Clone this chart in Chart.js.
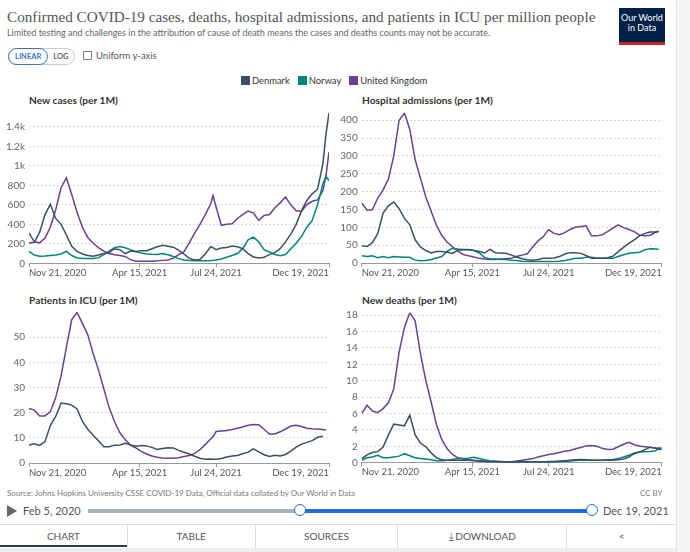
<!DOCTYPE html>
<html>
<head>
<meta charset="utf-8">
<script src="https://cdn.jsdelivr.net/npm/chart.js@4.4.1/dist/chart.umd.min.js"></script>
<style>
  body { margin: 0; width: 690px; height: 552px; overflow: hidden; background: #fff; font-family: Lato, sans-serif; position: relative; }
  .abs { position: absolute; }
  #title { left: 7px; top: 8px; font-family: "Liberation Serif", serif; font-size: 15.2px; color: #555; white-space: nowrap; }
  #subtitle { left: 7px; top: 27px; font-size: 9px; color: #666; white-space: nowrap; }
  #logo { left: 619px; top: 8px; width: 46px; background: #002147; border-bottom: 3px solid #ce261e; color: #fff; font-size: 9px; line-height: 10px; text-align: center; padding-top: 5px; height: 29px; }
  #toggle { left: 8px; top: 48px; height: 15px; border: 1px solid #ccc; border-radius: 9px; display: flex; font-size: 7.5px; font-weight: bold; }
  #toggle span { padding: 0 6px; line-height: 15px; color: #666; }
  #toggle .on { color: #3b73c0; border: 1px solid #3b73c0; border-radius: 9px; margin: -1px; line-height: 15px; }
  #uniform { left: 83px; top: 50px; font-size: 9.5px; color: #555; display: flex; align-items: center; }
  #uniform i { display: inline-block; width: 7px; height: 7px; border: 1px solid #777; border-radius: 1px; margin-right: 4px; }
  #legend { left: 241px; top: 75px; display: flex; font-size: 9.4px; color: #333; }
  #legend div { display: flex; align-items: center; margin-right: 8px; }
  #legend i { display: inline-block; width: 9px; height: 9px; margin-right: 2px; }
  .ptitle { font-size: 10.2px; font-weight: bold; color: #333; }
  canvas { position: absolute; }
  #frame { left: 676px; top: 0; width: 14px; height: 552px; background: #f5f5f5; border-left: 1px solid #e3e3e3; }
  #source { left: 7px; top: 488px; font-size: 8px; color: #777; }
  #ccby { left: 640px; top: 488px; font-size: 8px; color: #777; }
  #play { left: 7px; top: 505px; width: 0; height: 0; border-left: 10px solid #666; border-top: 6px solid transparent; border-bottom: 6px solid transparent; }
  #start { left: 23px; top: 504px; font-size: 11px; color: #555; }
  #end { left: 603px; top: 504px; font-size: 11px; color: #555; }
  #trackA { left: 88px; top: 509px; width: 212px; height: 4px; background: #aab1b8; }
  #trackB { left: 300px; top: 509px; width: 292px; height: 4px; background: #1f6fd6; }
  .handle { top: 504px; width: 10px; height: 10px; border-radius: 50%; border: 1.5px solid #1f6fd6; background: #fff; }
  #tabs { left: 0; top: 524px; width: 676px; height: 23px; border-top: 1px solid #ddd; display: flex; font-size: 10px; color: #555; }
  #tabs div { border-right: 1px solid #ddd; text-align: center; line-height: 22px; }
  #under { left: 0; top: 545px; width: 127px; height: 2px; background: #2c3e50; }
  #bottom { left: 0; top: 548px; width: 676px; height: 4px; background: #eee; }
</style>
</head>
<body>
<div id="frame" class="abs"></div>
<div id="title" class="abs">Confirmed COVID-19 cases, deaths, hospital admissions, and patients in ICU per million people</div>
<div id="subtitle" class="abs">Limited testing and challenges in the attribution of cause of death means the cases and deaths counts may not be accurate.</div>
<div id="logo" class="abs">Our World<br>in Data</div>
<div id="toggle" class="abs"><span class="on">LINEAR</span><span>LOG</span></div>
<div id="uniform" class="abs"><i></i>Uniform y-axis</div>
<div id="legend" class="abs"></div>

<div class="abs ptitle" style="left:29px;top:94px">New cases (per 1M)</div>
<div class="abs ptitle" style="left:362px;top:94px">Hospital admissions (per 1M)</div>
<div class="abs ptitle" style="left:29px;top:294px">Patients in ICU (per 1M)</div>
<div class="abs ptitle" style="left:362px;top:294px">New deaths (per 1M)</div>

<canvas id="cases" width="340" height="180" style="left:0;top:100px"></canvas>
<canvas id="hosp" width="340" height="180" style="left:335px;top:100px"></canvas>
<canvas id="icu" width="340" height="180" style="left:0;top:300px"></canvas>
<canvas id="deaths" width="340" height="180" style="left:335px;top:300px"></canvas>

<div id="source" class="abs">Source: Johns Hopkins University CSSE COVID-19 Data, Official data collated by Our World in Data</div>
<div id="ccby" class="abs">CC BY</div>
<div id="play" class="abs"></div>
<div id="start" class="abs">Feb 5, 2020</div>
<div id="trackA" class="abs"></div>
<div id="trackB" class="abs"></div>
<div class="abs handle" style="left:294px"></div>
<div class="abs handle" style="left:586px"></div>
<div id="end" class="abs">Dec 19, 2021</div>
<div id="tabs" class="abs">
  <div style="width:127px">CHART</div>
  <div style="width:127px">TABLE</div>
  <div style="width:142px">SOURCES</div>
  <div style="width:168px">&#10515; DOWNLOAD</div>
  <div style="width:109px;border-right:none">&lt;</div>
</div>
<div id="under" class="abs"></div>
<div id="bottom" class="abs"></div>

<script>
// days since Nov 21, 2020
var days = [0,7,14,21,28,35,42,49,56,63,70,77,84,91,98,105,112,119,126,133,140,147,154,161,168,175,182,189,196,203,210,217,224,231,238,241,245,252,259,266,273,280,287,294,301,308,315,322,329,336,343,350,357,364,371,378,385,389,393];
var tickDays = [0, 145, 245, 393];
var tickLabels = ['Nov 21, 2020', 'Apr 15, 2021', 'Jul 24, 2021', 'Dec 19, 2021'];

var countries = ['Denmark', 'Norway', 'United Kingdom'];
var colors = ['#3c4e66', '#00847e', '#6d3e91'];

// new cases per 1M
var casesDenmark = [209,215,320,500,605,460,400,290,175,123,95,80,72,85,100,110,150,140,100,125,120,130,130,150,170,185,175,165,135,95,50,35,40,95,170,160,140,157,162,178,170,150,100,65,55,62,89,110,150,220,300,400,540,645,712,760,1020,1320,1545];
var casesNorway = [123,85,72,75,80,85,95,123,80,55,50,48,50,58,90,125,160,172,160,140,118,105,96,92,90,100,88,70,48,35,28,27,27,27,29,31,35,45,62,80,100,150,240,268,220,140,116,90,78,90,150,205,277,370,440,600,815,890,850];
var casesUK = [311,220,210,260,370,550,775,875,705,520,370,265,205,160,125,100,88,80,70,38,22,20,20,22,25,30,35,50,89,120,210,310,400,500,610,694,580,390,400,405,460,500,535,515,440,490,500,568,620,680,600,540,534,602,636,650,745,900,1140];

// hospital admissions per 1M
var hospDenmark = [48,46,57,82,140,160,171,152,125,107,65,45,35,28,32,32,30,27,36,37,37,35,32,28,38,29,28,27,22,17,12,9,8,10,13,13,13,14,18,25,29,29,27,21,13,13,13,15,19,32,44,55,65,76,83,87,87,88,null];
var hospNorway = [20,18,20,15,18,15,18,17,16,16,8,6,7,10,14,18,33,41,39,38,38,35,28,15,12,11,10,10,8,7,5,4,4,4,4,4,4,4,5,7,10,13,13,16,16,13,13,13,13,18,23,27,29,30,37,40,39,38,null];
var hospUK = [168,148,149,182,205,235,300,400,420,374,290,237,185,145,105,77,58,45,33,24,20,17,13,11,10,10,11,12,13,18,22,26,45,62,74,83,93,83,79,85,94,100,102,104,76,76,79,88,98,107,99,94,88,78,76,78,86,89,null];

// patients in ICU per 1M
var icuDenmark = [7.1,7.6,7.0,8.5,15,18.5,23.8,23.5,23,21.5,16.5,13.4,11,8.8,6.5,6.5,7.1,7.2,7.8,7.2,6.7,7.0,6.8,6.2,5.4,5.8,6.1,6.0,5.0,4.3,3.6,2.7,1.9,1.5,1.6,1.5,1.5,1.8,2.4,2.8,3.0,3.7,4.3,5.6,4.4,3.3,2.6,3.1,2.8,3.4,4.7,6.3,7.5,8.2,8.9,10.2,10.6,null,null];
var icuUK = [21.7,21,18.7,18.7,20.4,26,34.5,46,57,59.8,55.5,51,43.5,37,29.5,22,16.5,12,9.3,7,6,4.6,3.6,2.8,2.3,2.0,1.9,1.9,2.1,2.6,3.0,3.8,5.3,7.4,9.5,10.4,12.5,12.7,12.9,13.3,13.8,14.3,15,15.3,15.2,13.4,11.5,11.5,12.4,13.5,14.7,15,14.5,13.8,13.6,13.5,13.3,13.1,null];

// new deaths per 1M
var deathsDenmark = [0.5,0.95,1.25,1.35,1.9,3.4,4.7,4.6,4.5,5.8,3.4,2.4,1.95,1.2,0.6,0.35,0.3,0.3,0.3,0.3,0.3,0.25,0.2,0.15,0.12,0.12,0.12,0.12,0.12,0.12,0.12,0.12,0.12,0.12,0.12,0.12,0.15,0.15,0.2,0.25,0.3,0.35,0.4,0.35,0.3,0.3,0.3,0.3,0.3,0.35,0.45,0.7,1.1,1.3,1.6,1.9,1.75,1.65,1.6];
var deathsNorway = [0.3,0.6,0.7,0.9,0.6,0.6,0.7,0.8,1.1,0.85,0.6,0.5,0.45,0.35,0.25,0.25,0.3,0.4,0.5,0.5,0.55,0.65,0.5,0.35,0.25,0.2,0.15,0.1,0.05,0.02,0,0,0,0.02,0.05,0.05,0.07,0.1,0.12,0.15,0.2,0.28,0.3,0.3,0.3,0.3,0.3,0.35,0.4,0.5,0.7,0.9,1.2,1.3,1.35,1.38,1.45,1.75,1.75];
var deathsUK = [6.0,7.0,6.3,6.1,6.6,7.3,9.0,13.5,16.5,18.3,17.3,13.3,10.0,7.4,4.6,2.8,1.7,1.0,0.6,0.45,0.35,0.3,0.25,0.2,0.15,0.12,0.12,0.12,0.12,0.2,0.3,0.4,0.5,0.7,0.85,0.9,1.0,1.1,1.25,1.4,1.5,1.7,1.85,2.05,2.1,2.0,1.75,1.6,1.65,1.95,2.25,2.5,2.2,2.05,1.95,1.85,1.8,1.75,1.75];

var casesTicks = [0,200,400,600,800,1000,1200,1400];
var casesTickText = ['0','200','400','600','800','1k','1.2k','1.4k'];
var hospTicks = [0,50,100,150,200,250,300,350,400];
var icuTicks = [0,10,20,30,40,50];
var deathsTicks = [0,2,4,6,8,10,12,14,16,18];

Chart.defaults.font.family = 'Lato';
Chart.defaults.color = '#666';

// legend
var legend = document.getElementById('legend');
countries.forEach(function(name, i) {
  var d = document.createElement('div');
  d.innerHTML = '<i style="background:' + colors[i] + '"></i>' + name;
  legend.appendChild(d);
});

function points(values) {
  return days.map(function(d, i) { return { x: d, y: values[i] }; });
}

function makePanel(id, seriesList, ticks, tickText, yMax, yWidth, padTop, padRight, xHeight) {
  var datasets = [];
  seriesList.forEach(function(s, i) {
    if (!s) return;
    datasets.push({
      label: countries[i],
      data: points(s),
      borderColor: colors[i],
      borderWidth: 1.5,
      pointRadius: 0,
      tension: 0,
      spanGaps: false
    });
  });
  new Chart(document.getElementById(id), {
    type: 'line',
    data: { datasets: datasets },
    options: {
      responsive: false,
      animation: false,
      devicePixelRatio: 1,
      layout: { padding: { left: 0, top: padTop, right: padRight, bottom: 0 } },
      plugins: { legend: { display: false }, tooltip: { enabled: false } },
      scales: {
        x: {
          type: 'linear',
          min: 0,
          max: 393,
          afterBuildTicks: function(scale) { scale.ticks = tickDays.map(function(v) { return { value: v }; }); },
          afterFit: function(scale) { scale.height = xHeight; },
          grid: { drawOnChartArea: false, drawTicks: true, tickLength: 4, color: '#999' },
          border: { color: '#999' },
          ticks: {
            align: 'inner',
            autoSkip: false,
            maxRotation: 0,
            padding: 0,
            color: '#555',
            font: { size: 9.5 },
            callback: function(v) { return tickLabels[tickDays.indexOf(v)]; }
          }
        },
        y: {
          min: 0,
          max: yMax,
          afterBuildTicks: function(scale) { scale.ticks = ticks.map(function(v) { return { value: v }; }); },
          afterFit: function(scale) { scale.width = yWidth; },
          grid: { color: '#d8d8d8', drawTicks: false },
          border: { display: false, dash: [2, 2] },
          ticks: {
            padding: 4,
            color: '#666',
            font: { size: 10 },
            callback: function(v) { var k = ticks.indexOf(v); return tickText ? tickText[k] : String(v); }
          }
        }
      }
    }
  });
}

makePanel('cases', [casesDenmark, casesNorway, casesUK], casesTicks, casesTickText, 1545, 29, 12.7, 11, 16.7);
makePanel('hosp', [hospDenmark, hospNorway, hospUK], hospTicks, null, 421, 26.7, 12.7, 13.3, 17);
makePanel('icu', [icuDenmark, null, icuUK], icuTicks, null, 60, 29, 12, 11, 17);
makePanel('deaths', [deathsDenmark, deathsNorway, deathsUK], deathsTicks, null, 18.3, 26.7, 12.7, 13.3, 17.3);
</script>
</body>
</html>
